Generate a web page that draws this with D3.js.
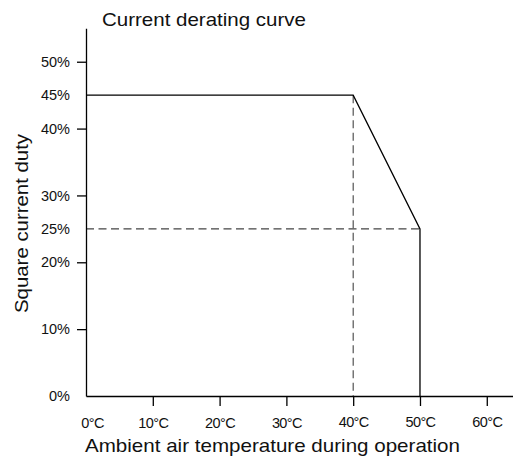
<!DOCTYPE html>
<html>
<head>
<meta charset="utf-8">
<script src="https://cdn.jsdelivr.net/npm/d3@7"></script>
<style>
  body { margin: 0; background: #fff; }
  svg { display: block; font-family: "Liberation Sans", Arial, sans-serif; }
</style>
</head>
<body>
<script>
// data //
const curveTemp = [0, 40, 50, 50];
const curveDuty = [45, 45, 25, 0];
const xTicks = [0, 10, 20, 30, 40, 50, 60];
const yTicks = [0, 10, 20, 25, 30, 40, 45, 50];
const yNoTick = [0, 25, 45];
const kneeTemp = 40, kneeDuty = 45;
const endTemp = 50, endDuty = 25;

const width = 513, height = 457;

const svg = d3.select('body').append('svg')
  .attr('width', width)
  .attr('height', height);

let x = d3.scaleLinear().domain([0, 64]).range([86, 513.5]);
let y = d3.scaleLinear().domain([0, 55]).range([396, 28.3]);

// title //
svg.append('text')
  .attr('x', 102).attr('y', 26)
  .attr('font-size', 18.5)
  .attr('textLength', 204)
  .attr('lengthAdjust', 'spacingAndGlyphs')
  .attr('fill', '#111')
  .text('Current derating curve');

// dashed guides //
const dash = svg.append('g')
  .attr('stroke', '#444')
  .attr('stroke-width', 1.1)
  .attr('stroke-dasharray', '8,4.5')
  .attr('fill', 'none');

dash.append('line')
  .attr('x1', x(kneeTemp)).attr('x2', x(kneeTemp))
  .attr('y1', y(kneeDuty)).attr('y2', y(0));
dash.append('line')
  .attr('x1', x(0)).attr('x2', x(endTemp))
  .attr('y1', y(endDuty)).attr('y2', y(endDuty));

// curve //
const pts = curveTemp.map((t, i) => [t, curveDuty[i]]);
let line = d3.line()
  .x(d => x(d[0]))
  .y(d => y(d[1]));

svg.append('path')
  .datum(pts)
  .attr('fill', 'none')
  .attr('stroke', '#000')
  .attr('stroke-width', 1.3)
  .attr('d', line);

// x axis //
const gx = svg.append('g')
  .attr('transform', 'translate(0,' + y(0) + ')')
  .call(d3.axisBottom(x)
    .tickValues(xTicks)
    .tickSizeInner(10)
    .tickSizeOuter(0)
    .tickPadding(12)
    .tickFormat(d => d + '°C'));

// y axis //
const gy = svg.append('g')
  .attr('transform', 'translate(' + x(0) + ',0)')
  .call(d3.axisLeft(y)
    .tickValues(yTicks)
    .tickSizeInner(9)
    .tickSizeOuter(0)
    .tickPadding(7)
    .tickFormat(d => d + '%'));

[gx, gy].forEach(g => {
  g.select('.domain').attr('stroke', '#000').attr('stroke-width', 1.3);
  g.selectAll('.tick line').attr('stroke', '#000').attr('stroke-width', 1.3);
  g.selectAll('.tick text')
    .attr('font-size', 14.5)
    .attr('fill', '#111')
    .attr('font-family', '"Liberation Sans", Arial, sans-serif');
});

gx.selectAll('.tick text').attr('letter-spacing', -0.6);
gx.selectAll('.tick').filter(d => d === 0).select('line').remove();
gx.selectAll('.tick').filter(d => d === 0).select('text').attr('dx', 6);
gx.selectAll('.tick').filter(d => d >= 40).select('text').attr('dy', '0.6em');
gy.selectAll('.tick').filter(d => yNoTick.includes(d)).select('line').remove();

// axis titles //
svg.append('text')
  .attr('x', 85).attr('y', 452)
  .attr('font-size', 18.5)
  .attr('textLength', 375)
  .attr('lengthAdjust', 'spacingAndGlyphs')
  .attr('fill', '#111')
  .text('Ambient air temperature during operation');

svg.append('text')
  .attr('transform', 'translate(28,223.5) rotate(-90)')
  .attr('text-anchor', 'middle')
  .attr('font-size', 18.5)
  .attr('textLength', 179)
  .attr('lengthAdjust', 'spacingAndGlyphs')
  .attr('fill', '#111')
  .text('Square current duty');
</script>
</body>
</html>
